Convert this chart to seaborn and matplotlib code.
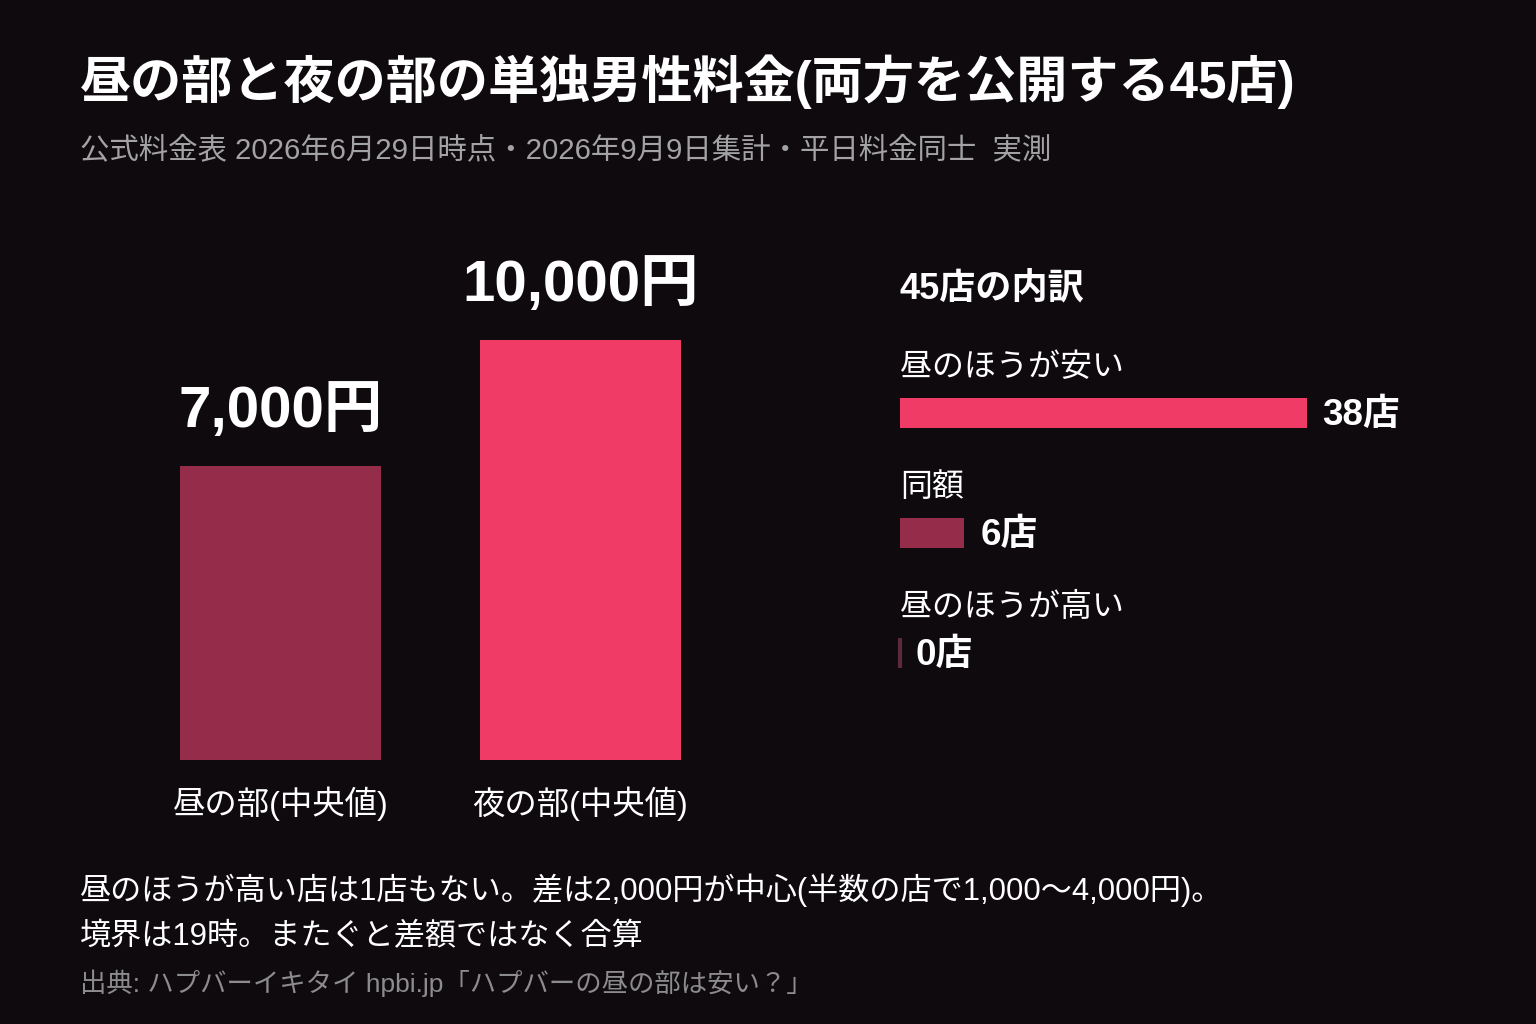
import matplotlib
matplotlib.use("Agg")
import matplotlib.pyplot as plt
import seaborn as sns

# データ
periods = ["昼の部(中央値)", "夜の部(中央値)"]
medians = [7000, 10000]
period_colors = ["#952d4a", "#ef3b66"]

breakdown_labels = ["昼のほうが安い", "同額", "昼のほうが高い"]
breakdown_counts = [38, 6, 0]
breakdown_colors = ["#ef3b66", "#952d4a", "#5c2a3b"]

title = "昼の部と夜の部の単独男性料金(両方を公開する45店)"
subtitle = "公式料金表 2026年6月29日時点・2026年9月9日集計・平日料金同士  実測"
note1 = "昼のほうが高い店は1店もない。差は2,000円が中心(半数の店で1,000〜4,000円)。"
note2 = "境界は19時。またぐと差額ではなく合算"
source = "出典: ハプバーイキタイ hpbi.jp「ハプバーの昼の部は安い？」"

bg = "#0e0a0e"
sns.set_theme(style="white")
# 英数字は Liberation Sans、日本語は Noto Sans CJK JP
plt.rcParams['font.family'] = ['Liberation Sans', 'Noto Sans CJK JP', 'DejaVu Sans']
plt.rcParams['axes.unicode_minus'] = False

fig = plt.figure(figsize=(15.36, 10.24), dpi=100, facecolor=bg)

W, H = 1536, 1024
def fx(x):
    return x / W
def fy(y):
    return 1 - y / H

# 左: 中央値の棒グラフ
ax1 = fig.add_axes([fx(130.5), fy(760), 600 / W, 504 / H])
ax1.set_facecolor(bg)
sns.barplot(x=periods, y=medians, hue=periods, palette=period_colors,
            width=0.67, saturation=1, legend=False, linewidth=0, ax=ax1)
ax1.set_xlim(-0.5, 1.5)
ax1.set_ylim(0, 12000)
for i, v in enumerate(medians):
    ax1.annotate(f"{v:,}円", (i, v), xytext=(0, 39), textcoords="offset points",
                 ha="center", va="center", fontsize=42, fontweight="bold", color="white")
ax1.set_yticks([])
ax1.set_xlabel("")
ax1.set_ylabel("")
ax1.tick_params(axis="x", length=0, pad=19, labelsize=23.3, labelcolor="white")
sns.despine(ax=ax1, left=True, bottom=True)

# 右: 45店の内訳
ax2 = fig.add_axes([fx(900), fy(713), 535 / W, 360 / H])
ax2.set_facecolor(bg)
sns.barplot(x=breakdown_counts, y=breakdown_labels, hue=breakdown_labels,
            palette=breakdown_colors, orient="h", width=0.25, saturation=1,
            legend=False, linewidth=0, ax=ax2)
ax2.set_xlim(0, 50)
ax2.set_ylim(2.5, -0.5)
for p in ax2.patches:
    if p.get_width() == 0:
        p.set_edgecolor(p.get_facecolor())
        p.set_linewidth(3)
        p.set_clip_on(False)
for i, (lab, v) in enumerate(zip(breakdown_labels, breakdown_counts)):
    ax2.text(0, i - 0.375, lab, ha="left", va="center", fontsize=23, color="white")
    ax2.annotate(f"{v}店", (v, i + 0.02), xytext=(11.5, 0), textcoords="offset points",
                 ha="left", va="center", fontsize=26.5, fontweight="bold", color="white")
ax2.set_xticks([])
ax2.set_yticks([])
ax2.set_xlabel("")
ax2.set_ylabel("")
sns.despine(ax=ax2, left=True, bottom=True)

fig.text(fx(900), fy(289), "45店の内訳", ha="left", va="center",
         fontsize=26, fontweight="bold", color="white")

# タイトル・注記
fig.text(fx(80), fy(82), title, ha="left", va="center",
         fontsize=36.8, fontweight="bold", color="white")
fig.text(fx(80), fy(150), subtitle, ha="left", va="center",
         fontsize=21.2, color="#a3a3a3")
fig.text(fx(80), fy(890), note1, ha="left", va="center", fontsize=22.4, color="white")
fig.text(fx(80), fy(937), note2, ha="left", va="center", fontsize=22.4, color="white")
fig.text(fx(80), fy(983), source, ha="left", va="center", fontsize=19, color="#8c8c8c")

fig.savefig("out.png", dpi=100, facecolor=bg)
